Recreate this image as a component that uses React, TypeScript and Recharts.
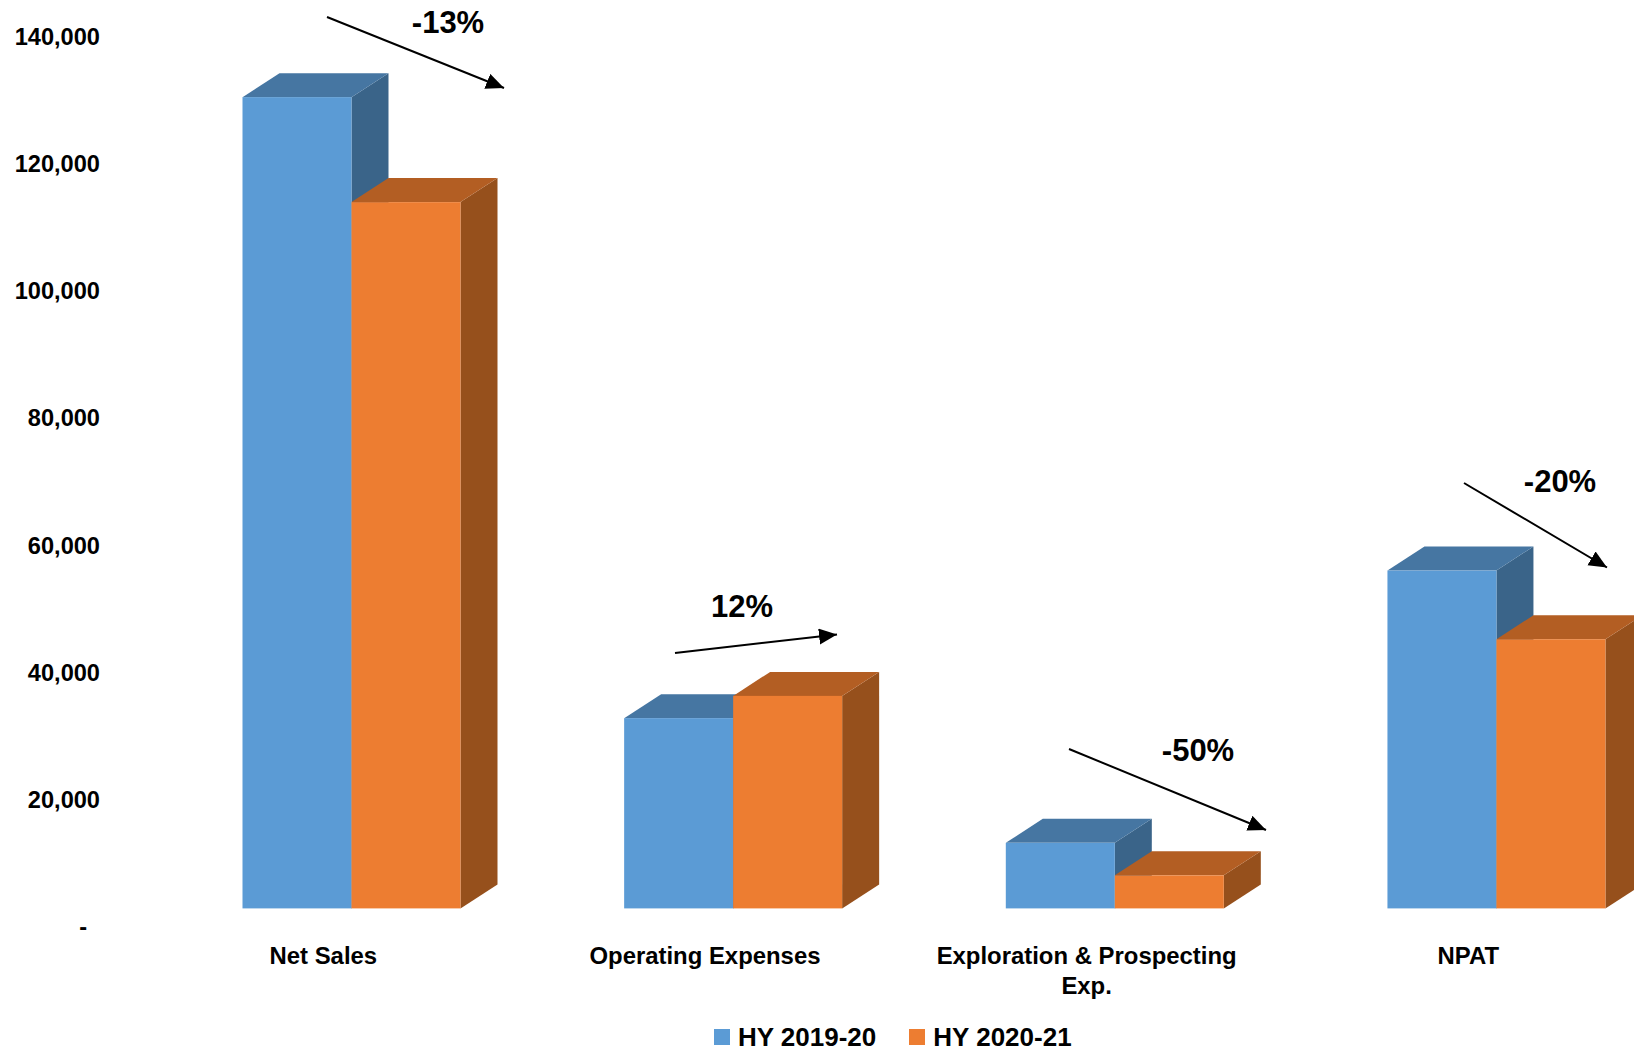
import React from "react";
import { BarChart, Bar, XAxis, YAxis, Legend } from "recharts";

const categories = ["Net Sales", "Operating Expenses", "Exploration & Prospecting Exp.", "NPAT"];
const categoryLines = [["Net Sales"], ["Operating Expenses"], ["Exploration & Prospecting", "Exp."], ["NPAT"]];
const hy2019 = [127500, 29900, 10300, 53100];
const hy2020 = [111000, 33400, 5200, 42300];
const yTicks = [0, 20000, 40000, 60000, 80000, 100000, 120000, 140000];
const changeLabels = ["-13%", "12%", "-50%", "-20%"];

const data = categories.map((name, i) => ({ name, a: hy2019[i], b: hy2020[i] }));

const FONT = "'Liberation Sans', Arial, sans-serif";
const DX = 37;
const DY = 24;

// annotation layout, in chart pixels
const arrows = [
  [327, 17, 504, 88],
  [675, 653, 837, 634.5],
  [1069, 749, 1266, 830],
  [1464, 483, 1607, 567.5],
];
const labelPos = [
  [448, 22.5],
  [742, 606],
  [1198, 750.5],
  [1560, 481.5],
];

const make3D = (front: string, top: string, side: string) => (props: any) => {
  const { x, y, width, height } = props;
  if (height == null) return null;
  const r = x + width;
  const b = y + height;
  return (
    <g>
      <polygon points={`${r},${y} ${r + DX},${y - DY} ${r + DX},${b - DY} ${r},${b}`} fill={side} />
      <polygon points={`${x},${y} ${x + DX},${y - DY} ${r + DX},${y - DY} ${r},${y}`} fill={top} />
      <rect x={x} y={y} width={width} height={height} fill={front} />
    </g>
  );
};

const YTick = (props: any) => {
  const { y, payload } = props;
  const v = payload.value;
  return (
    <text x={v === 0 ? 87 : 100} y={y + 18.7} dy="0.35em" textAnchor="end" fontFamily={FONT} fontWeight="bold" fontSize={23.6} fill="#000">
      {v === 0 ? "-" : v.toLocaleString("en-US")}
    </text>
  );
};

const XTick = (props: any) => {
  const { x, payload, index } = props;
  const lines = categoryLines[index] || [payload.value];
  return (
    <text textAnchor="middle" fontFamily={FONT} fontWeight="bold" fontSize={23.9} fill="#000">
      {lines.map((l: string, i: number) => (
        <tspan key={i} x={x - 28} y={956 + i * 29.5} dy="0.35em">
          {l}
        </tspan>
      ))}
    </text>
  );
};

const LegendContent = (props: any) => (
  <div style={{ display: "flex", fontFamily: FONT, fontWeight: "bold", fontSize: 26, color: "#000", lineHeight: "20px" }}>
    {(props.payload || []).map((p: any, i: number) => (
      <div key={i} style={{ display: "flex", alignItems: "center", marginRight: 33 }}>
        <span style={{ display: "inline-block", width: 16, height: 16, background: p.color, marginRight: 8 }} />
        <span>{p.value}</span>
      </div>
    ))}
  </div>
);

export default function App() {
  return (
    <div style={{ position: "absolute", left: 0, top: 0, width: 1634, height: 1052, overflow: "hidden", background: "#fff" }}>
      <BarChart
        width={1750}
        height={1052}
        data={data}
        barSize={109}
        barGap={0}
        margin={{ top: 17.6, right: 62.9, bottom: 83.6, left: 60.5 }}
        style={{ overflow: "hidden" }}
      >
        <defs>
          <marker id="arrowHead" markerUnits="userSpaceOnUse" markerWidth="20" markerHeight="18" refX="18" refY="8" orient="auto">
            <polygon points="0,0 18,8 0,16" fill="#000" />
          </marker>
        </defs>
        <XAxis dataKey="name" axisLine={false} tickLine={false} height={60} interval={0} tick={<XTick />} />
        <YAxis width={100} domain={[0, 140000]} ticks={yTicks} axisLine={false} tickLine={false} tick={<YTick />} />
        <Bar dataKey="a" name="HY 2019-20" fill="#5B9BD5" isAnimationActive={false} shape={make3D("#5B9BD5", "#4676A2", "#3A6489")} />
        <Bar dataKey="b" name="HY 2020-21" fill="#ED7D31" isAnimationActive={false} shape={make3D("#ED7D31", "#B35E23", "#96501C")} />
        <Legend
          layout="horizontal"
          verticalAlign="middle"
          align="center"
          content={<LegendContent />}
          wrapperStyle={{ top: 1027, left: 714, width: 500, height: 20 }}
        />
        {arrows.map((a, i) => (
          <line key={i} x1={a[0]} y1={a[1]} x2={a[2]} y2={a[3]} stroke="#000" strokeWidth={2} markerEnd="url(#arrowHead)" />
        ))}
        {changeLabels.map((t, i) => (
          <text key={t} x={labelPos[i][0]} y={labelPos[i][1]} dy="0.35em" textAnchor="middle" fontFamily={FONT} fontWeight="bold" fontSize={31} fill="#000">
            {t}
          </text>
        ))}
      </BarChart>
    </div>
  );
}
